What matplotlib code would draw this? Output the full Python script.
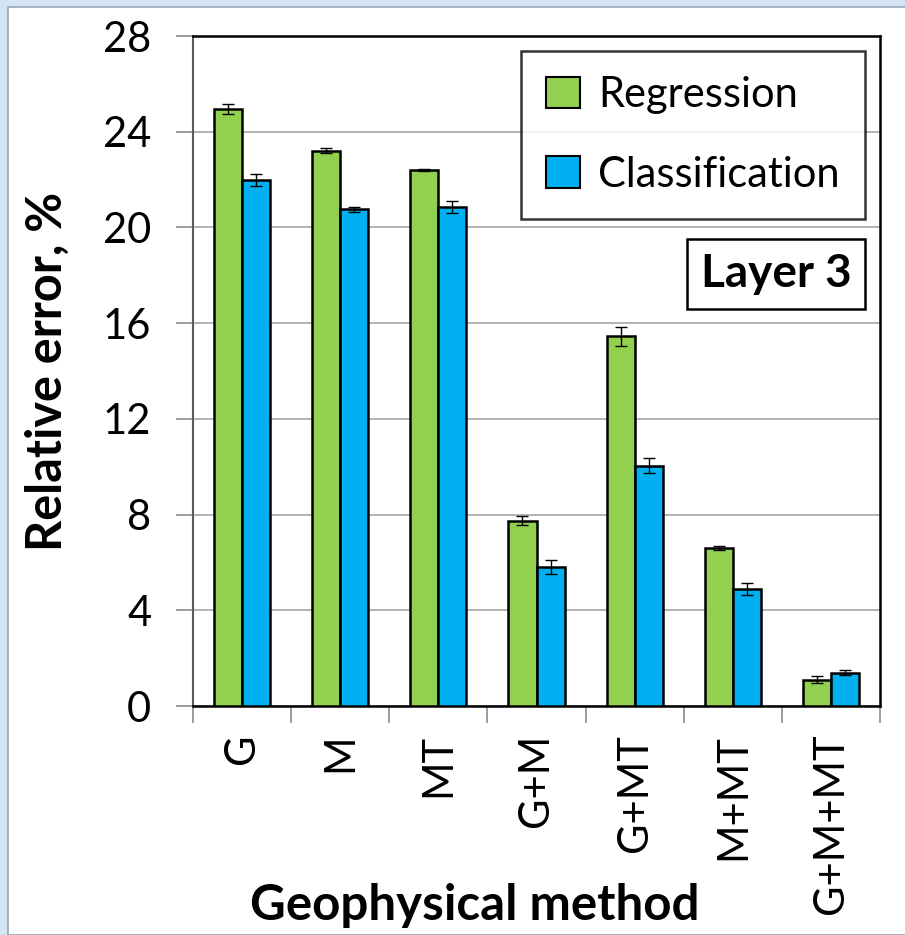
import numpy as np
import matplotlib
matplotlib.use('Agg')
import matplotlib.pyplot as plt
from matplotlib.patches import Rectangle, Patch

methods = ['G', 'M', 'MT', 'G+M', 'G+MT', 'M+MT', 'G+M+MT']
regression = [24.95, 23.2, 22.4, 7.75, 15.45, 6.6, 1.1]
regressionErr = [0.2, 0.1, 0.05, 0.2, 0.4, 0.1, 0.15]
classification = [22.0, 20.75, 20.85, 5.8, 10.05, 4.9, 1.4]
classificationErr = [0.25, 0.1, 0.25, 0.3, 0.3, 0.25, 0.12]
yTicks = [0, 4, 8, 12, 16, 20, 24, 28]

plt.rcParams['font.family'] = ['Lato', 'DejaVu Sans']

W, H = 905, 935
fig = plt.figure(figsize=(W / 100, H / 100), dpi=100, facecolor='#d3e4f3')

# white slide panel behind everything
fig.patches.append(Rectangle((8 / W, 0), 1, 1 - 7 / H, transform=fig.transFigure,
                             facecolor='white', edgecolor='#9aa6b2', linewidth=1.2, zorder=-5))

ax = fig.add_axes([193 / W, 1 - 706 / H, (880 - 193) / W, (706 - 36) / H])
ax.set_zorder(2)
ax.set_facecolor('white')

x = np.arange(len(methods))
barW = 0.286
errKw = dict(ecolor='black', elinewidth=1.0, capsize=4, capthick=1.0)

ax.bar(x - barW / 2, regression, barW, yerr=regressionErr, color='#92d050',
       edgecolor='black', linewidth=1.8, error_kw=errKw, zorder=3)
ax.bar(x + barW / 2, classification, barW, yerr=classificationErr, color='#00b0f0',
       edgecolor='black', linewidth=1.8, error_kw=errKw, zorder=3)

ax.set_xlim(-0.5, len(methods) - 0.5)
ax.set_ylim(0, 28)
ax.set_yticks(yTicks)
ax.set_yticklabels([str(t) for t in yTicks], fontsize=30)
ax.yaxis.grid(True, color='#a6a6a6', linewidth=1.2, zorder=0)
ax.set_axisbelow(True)

ax.set_xticks(x)
ax.set_xticklabels(methods, rotation=90, fontsize=30)
ax.set_xticks(np.arange(len(methods) + 1) - 0.5, minor=True)
ax.tick_params(axis='x', which='major', length=0, pad=20)
ax.tick_params(axis='x', which='minor', length=12, color='#8c8c8c', width=1.2)
ax.tick_params(axis='y', length=12, color='#8c8c8c', width=1.2, pad=18)

for side in ['top', 'right', 'bottom']:
    ax.spines[side].set_color('black')
    ax.spines[side].set_linewidth(1.8)
ax.spines['left'].set_color('#595959')
ax.spines['left'].set_linewidth(1.5)

ax.set_ylabel('Relative error, %', fontsize=35, fontweight='bold', labelpad=24)
fig.text(475 / W, 1 - 905 / H, 'Geophysical method', fontsize=35.5, fontweight='bold',
         ha='center', va='center')

handles = [Patch(facecolor='#92d050', edgecolor='black', linewidth=1.5),
           Patch(facecolor='#00b0f0', edgecolor='black', linewidth=1.5)]
leg = fig.legend(handles, ['Regression', 'Classification'], loc='upper right',
                 bbox_to_anchor=(865 / W, 1 - 51 / H), fontsize=30, frameon=True,
                 fancybox=False, edgecolor='black', handlelength=0.8, handleheight=0.8,
                 handletextpad=0.45, labelspacing=1.0, borderpad=0.6, borderaxespad=0)
leg.get_frame().set_linewidth(1.8)
leg.set_zorder(5)

fig.text(776 / W, 1 - 274 / H, 'Layer 3', fontsize=33, fontweight='bold', ha='center',
         va='center', zorder=5, bbox=dict(boxstyle='square,pad=0.3', facecolor='white',
                                          edgecolor='black', linewidth=1.8))

fig.savefig('out.png', dpi=100, facecolor=fig.get_facecolor())
